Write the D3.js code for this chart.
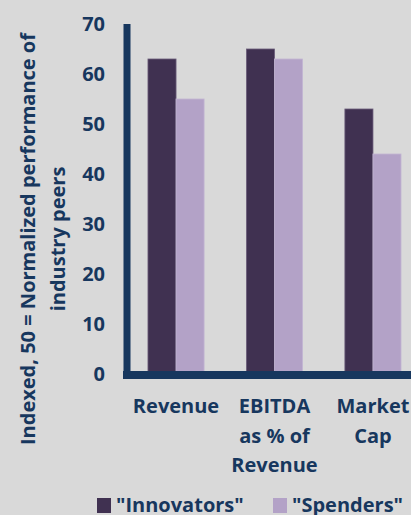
<!DOCTYPE html>
<html>
<head>
<meta charset="utf-8">
<script src="https://cdn.jsdelivr.net/npm/d3@7"></script>
<style>
  body { margin: 0; background: #d9d9d9; }
  svg { display: block; font-family: "Open Sans", sans-serif; font-weight: bold; }
</style>
</head>
<body>
<div id="container"></div>
<script>
var width = 411,
    height = 515;

// data
var categories = ["Revenue", "EBITDA as % of Revenue", "Market Cap"];
var categoryLines = [["Revenue"], ["EBITDA", "as % of", "Revenue"], ["Market", "Cap"]];
var seriesNames = ["\"Innovators\"", "\"Spenders\""];
var innovators = [63, 65, 53];
var spenders = [55, 63, 44];
var yTicks = [0, 10, 20, 30, 40, 50, 60, 70];
var colors = ["#403151", "#b3a2c7"];
var navy = "#17375e";

var svg = d3.select("#container")
    .append("svg")
    .attr("width", width)
    .attr("height", height)
    .style("overflow", "hidden");

svg.append("rect")
    .attr("width", width)
    .attr("height", height)
    .attr("fill", "#d9d9d9");

var y = d3.scaleLinear().domain([0, 70]).range([374, 24]);

var x = d3.scaleBand()
    .domain(categories)
    .range([127, 422])
    .paddingInner(0.43)
    .paddingOuter(0.213);

var xSub = d3.scaleBand()
    .domain(seriesNames)
    .range([0, x.bandwidth()]);

var rows = categories.map(function (c, i) {
    return { cat: c, values: [innovators[i], spenders[i]] };
});

// bars
var groups = svg.append("g").selectAll("g")
    .data(rows)
    .enter().append("g")
    .attr("transform", function (d) { return "translate(" + x(d.cat) + ",0)"; });

groups.selectAll("rect")
    .data(function (d) {
        return d.values.map(function (v, j) { return { name: seriesNames[j], value: v, j: j }; });
    })
    .enter().append("rect")
    .attr("x", function (d) { return xSub(d.name); })
    .attr("width", xSub.bandwidth())
    .attr("y", function (d) { return y(d.value); })
    .attr("height", function (d) { return y(0) - y(d.value); })
    .attr("fill", function (d) { return colors[d.j]; })
    .attr("stroke", function (d) { return d.j == 0 ? "#6b5d7a" : "#c3b6d3"; })
    .attr("stroke-width", 0.8);

// y axis
var yAxis = d3.axisLeft(y).tickValues(yTicks).tickSize(0).tickPadding(22);
var yG = svg.append("g")
    .attr("transform", "translate(127,0)")
    .call(yAxis);
yG.select(".domain").remove();
yG.selectAll("text")
    .attr("fill", navy)
    .attr("font-size", 20)
    .attr("font-family", "Open Sans")
    .attr("font-weight", "bold");

svg.append("line")
    .attr("x1", 127).attr("x2", 127)
    .attr("y1", y(70)).attr("y2", 379)
    .attr("stroke", navy)
    .attr("stroke-width", 7);

// x axis line
svg.append("line")
    .attr("x1", 123).attr("x2", width)
    .attr("y1", 375).attr("y2", 375)
    .attr("stroke", navy)
    .attr("stroke-width", 8);

// category labels
var catG = svg.append("g").selectAll("text")
    .data(categories)
    .enter().append("text")
    .attr("text-anchor", "middle")
    .attr("fill", navy)
    .attr("font-size", 20)
    .attr("x", function (d) { return x(d) + x.bandwidth() / 2; })
    .attr("y", 413);

catG.selectAll("tspan")
    .data(function (d, i) { return categoryLines[i]; })
    .enter().append("tspan")
    .attr("x", function () { return d3.select(this.parentNode).attr("x"); })
    .attr("dy", function (d, i) { return i == 0 ? 0 : 29.5; })
    .text(function (d) { return d; });

// y axis title
var title = svg.append("text")
    .attr("transform", "translate(28,239) rotate(-90)")
    .attr("text-anchor", "middle")
    .attr("fill", navy)
    .attr("font-size", 20);
title.append("tspan").attr("x", 0).attr("dy", "0.35em").text("Indexed, 50 = Normalized performance of");
title.append("tspan").attr("x", 0).attr("dy", 30).text("industry peers");

// legend
var legendX = [97, 273];
var legend = svg.append("g").selectAll("g")
    .data(seriesNames)
    .enter().append("g")
    .attr("transform", function (d, i) { return "translate(" + legendX[i] + ",498)"; });

legend.append("rect")
    .attr("width", 14)
    .attr("height", 15)
    .attr("fill", function (d, i) { return colors[i]; });

legend.append("text")
    .attr("x", 19)
    .attr("y", 14)
    .attr("fill", navy)
    .attr("font-size", 20)
    .text(function (d) { return d; });
</script>
</body>
</html>
